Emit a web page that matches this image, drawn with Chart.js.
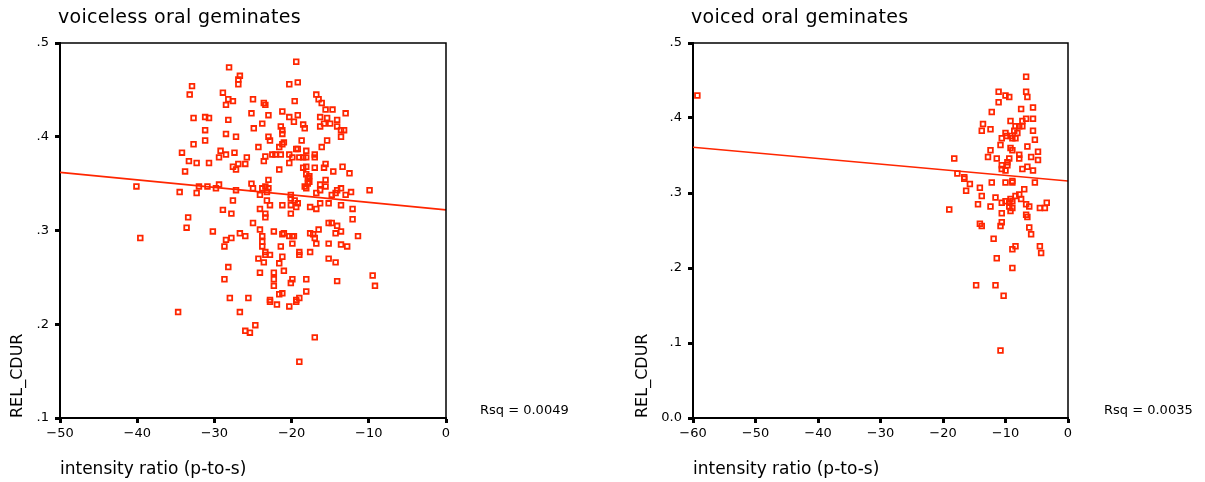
<!DOCTYPE html>
<html>
<head>
<meta charset="utf-8">
<script src="https://cdn.jsdelivr.net/npm/chart.js@4/dist/chart.umd.min.js"></script>
<style>
  body { margin: 0; background: #fff; }
  #wrap { position: relative; width: 1205px; height: 482px; }
  .box { position: absolute; top: 0; height: 482px; }
  #left { left: 0; width: 600px; }
  #right { left: 600px; width: 605px; }
</style>
</head>
<body>
<div id="wrap">
  <div class="box" id="left"><canvas id="c1"></canvas></div>
  <div class="box" id="right"><canvas id="c2"></canvas></div>
</div>
<script>
// stimmlose orale Geminaten (links)
const voicelessX = [
  -28.1,-26.7,-26.9,-26.9,-32.9,-33.2,-28.9,-28.2,-27.6,-28.5,-25.0,-25.2,-32.7,-31.2,-30.7,-28.2,-24.9,-31.2,-28.5,-27.2,
  -32.7,-31.2,-34.2,-29.2,-28.5,-27.4,-25.8,-33.3,-32.3,-30.7,-29.4,-27.6,-26.9,-26.0,-27.2,-33.8,-25.2,-40.1,-34.5,-32.0,
  -30.9,-29.8,-29.4,-27.2,-32.3,-25.0,-27.6,-28.9,-27.8,-33.4,-33.6,-39.6,-30.2,-28.5,-27.8,-26.7,-26.0,-25.0,-28.7,-28.2,
  -28.7,-28.0,-25.6,-34.7,-26.7,-24.7,-26.0,-25.4,-19.4,-20.3,-19.2,-16.8,-16.5,-16.1,-23.6,-23.4,-19.6,-15.6,-14.7,-13.0,
  -23.0,-21.2,-20.3,-19.2,-16.3,-15.4,-19.7,-15.8,-15.0,-14.1,-23.8,-21.4,-21.2,-21.2,-18.5,-18.3,-16.3,-14.1,-13.6,-13.2,
  -13.6,-23.0,-22.8,-18.7,-15.4,-21.0,-21.2,-21.6,-24.3,-16.1,-19.4,-19.2,-18.1,-23.4,-22.5,-22.1,-21.4,-20.3,-19.9,-19.0,
  -18.5,-18.1,-17.0,-17.0,-23.6,-20.3,-15.6,-18.1,-18.5,-17.0,-15.8,-13.4,-21.6,-14.6,-12.5,-18.1,-17.9,-17.7,-23.0,-15.6,
  -17.7,-17.9,-16.3,-15.6,-18.3,-18.1,-16.3,-23.8,-23.4,-23.0,-23.2,-24.1,-14.1,-13.6,-14.3,-14.8,-12.3,-9.9,-13.0,-16.8,
  -20.1,-20.1,-19.6,-19.2,-23.2,-22.8,-21.2,-20.1,-19.4,-16.3,-15.2,-13.6,-17.6,-16.8,-24.1,-12.1,-20.1,-23.4,-23.4,-12.1,
  -24.1,-22.3,-21.0,-21.2,-20.3,-19.9,-19.7,-23.8,-23.8,-23.8,-21.4,-19.9,-15.2,-14.8,-14.1,-13.6,-14.3,-17.6,-17.2,-16.5,
  -17.0,-16.8,-15.2,-13.6,-12.8,-11.4,-23.4,-23.4,-22.8,-24.3,-23.6,-21.2,-19.0,-19.0,-17.6,-21.6,-15.2,-14.3,-24.1,-22.3,
  -21.0,-22.3,-19.9,-20.1,-18.1,-14.1,-22.3,-21.2,-21.6,-18.1,-22.8,-22.8,-19.4,-19.4,-19.0,-21.9,-20.3,-17.0,-19.0,-9.5,
  -9.2
];
const voicelessY = [
  .474,.465,.461,.456,.454,.445,.447,.440,.438,.434,.440,.425,.420,.421,.420,.418,.409,.407,.403,.400,
  .392,.396,.383,.385,.381,.383,.378,.374,.372,.372,.378,.368,.371,.371,.365,.363,.350,.347,.341,.347,
  .347,.345,.349,.343,.340,.345,.332,.322,.318,.314,.303,.292,.299,.290,.292,.297,.294,.308,.283,.261,
  .248,.228,.228,.213,.213,.199,.193,.191,.480,.456,.458,.445,.440,.436,.436,.434,.438,.429,.429,.425,
  .423,.427,.421,.423,.421,.420,.416,.414,.414,.418,.414,.411,.407,.403,.413,.409,.411,.411,.407,.407,
  .400,.400,.396,.396,.396,.394,.392,.389,.389,.389,.387,.387,.385,.379,.381,.381,.381,.381,.378,.378,
  .378,.378,.381,.378,.374,.372,.371,.368,.367,.367,.367,.368,.365,.363,.361,.360,.356,.358,.354,.354,
  .352,.350,.349,.347,.347,.345,.343,.345,.347,.345,.341,.338,.343,.345,.340,.338,.341,.343,.338,.340,
  .338,.334,.332,.329,.332,.327,.327,.327,.325,.329,.329,.327,.325,.323,.323,.323,.318,.318,.314,.312,
  .301,.299,.297,.296,.294,.294,.294,.294,.288,.283,.283,.286,.308,.308,.305,.299,.297,.297,.296,.301,
  .292,.286,.286,.285,.283,.294,.277,.274,.274,.270,.266,.272,.277,.274,.277,.265,.270,.266,.255,.255,
  .257,.248,.248,.244,.248,.246,.241,.233,.232,.235,.226,.224,.226,.224,.228,.221,.219,.186,.160,.252,
  .241
];
// stimmhafte orale Geminaten (rechts)
const voicedX = [
  -59.3,-6.7,-11.1,-10.0,-9.4,-6.7,-6.5,-11.1,-7.5,-5.6,-12.2,-9.2,-7.3,-6.7,-5.6,-13.6,-12.4,-13.8,-8.4,-7.8,
  -7.3,-8.6,-8.1,-5.6,-10.0,-9.8,-10.6,-9.2,-8.9,-8.4,-5.3,-10.8,-9.2,-8.9,-6.5,-12.4,-4.8,-18.2,-12.8,-11.4,
  -9.4,-7.8,-7.8,-5.9,-4.8,-9.7,-10.6,-9.7,-10.6,-10.0,-7.3,-6.5,-5.6,-17.7,-16.6,-16.6,-15.7,-12.2,-10.0,-8.9,
  -8.9,-5.3,-14.1,-16.3,-7.0,-13.8,-11.6,-8.4,-7.8,-7.5,-9.2,-10.0,-10.6,-9.4,-8.9,-14.4,-12.4,-9.4,-6.7,-6.2,
  -3.4,-4.5,-3.7,-19.0,-8.9,-9.2,-10.6,-6.7,-6.5,-14.1,-13.8,-10.6,-10.8,-6.2,-5.9,-11.9,-8.4,-8.9,-4.5,-4.3,
  -11.4,-8.9,-14.7,-11.6,-10.3,-10.8
];
const voicedY = [
  .430,.455,.435,.430,.428,.435,.428,.421,.412,.414,.408,.396,.396,.399,.399,.392,.385,.383,.389,.389,
  .389,.383,.380,.383,.380,.376,.373,.376,.373,.373,.371,.364,.360,.357,.362,.357,.355,.346,.348,.346,
  .346,.351,.346,.348,.344,.341,.337,.337,.332,.330,.332,.335,.330,.326,.321,.319,.312,.314,.314,.316,
  .314,.314,.307,.303,.305,.296,.294,.296,.298,.292,.292,.289,.287,.287,.289,.285,.282,.282,.285,.282,
  .287,.280,.280,.278,.280,.276,.273,.271,.268,.259,.256,.261,.256,.254,.245,.239,.229,.225,.229,.220,
  .213,.200,.177,.177,.163,.090
];

// Regressionsgeraden
const voicelessFit = [[-50, .362], [0, .322]];
const voicedFit = [[-60, .361], [0, .316]];

// Achsen-Ticks
const voicelessXTicks = [-50, -40, -30, -20, -10, 0];
const voicelessXLabels = ['\u221250', '\u221240', '\u221230', '\u221220', '\u221210', '0'];
const voicelessYTicks = [.1, .2, .3, .4, .5];
const voicelessYLabels = ['.1', '.2', '.3', '.4', '.5'];
const voicedXTicks = [-60, -50, -40, -30, -20, -10, 0];
const voicedXLabels = ['\u221260', '\u221250', '\u221240', '\u221230', '\u221220', '\u221210', '0'];
const voicedYTicks = [0, .1, .2, .3, .4, .5];
const voicedYLabels = ['0.0', '.1', '.2', '.3', '.4', '.5'];

const RED = '#ff2600';

Chart.defaults.font.family = '"DejaVu Sans", sans-serif';
Chart.defaults.font.size = 13;
Chart.defaults.color = '#000';

// Rahmen oben/rechts, Titel und Rsq
const framePlugin = {
  id: 'frame',
  afterDraw(chart, args, opts) {
    const { ctx, chartArea: a } = chart;
    ctx.save();
    ctx.strokeStyle = '#000';
    ctx.lineWidth = 1.5;
    ctx.beginPath();
    ctx.moveTo(a.left, a.top);
    ctx.lineTo(a.right, a.top);
    ctx.lineTo(a.right, a.bottom);
    ctx.stroke();
    ctx.fillStyle = '#000';
    ctx.textBaseline = 'middle';
    ctx.font = '19px "DejaVu Sans"';
    ctx.letterSpacing = '0.3px';
    ctx.fillText(opts.title, a.left - 2, 18);
    ctx.letterSpacing = '0px';
    ctx.font = '13px "DejaVu Sans"';
    ctx.fillText(opts.rsq, a.right + opts.rsqGap, a.bottom - 7);
    ctx.restore();
  }
};

function toPoints(xs, ys) {
  return xs.map((x, i) => ({ x: x, y: ys[i] }));
}

function makeChart(id, cfg) {
  const axisGrid = {
    drawOnChartArea: false,
    drawTicks: true,
    tickLength: 5,
    tickWidth: 3,
    tickColor: '#000'
  };
  return new Chart(document.getElementById(id), {
    type: 'scatter',
    data: {
      datasets: [{
        type: 'line',
        data: cfg.fit.map(p => ({ x: p[0], y: p[1] })),
        borderColor: RED,
        borderWidth: 1.6,
        pointRadius: 0,
        fill: false
      }, {
        data: toPoints(cfg.xs, cfg.ys),
        pointStyle: 'rect',
        pointRadius: 3.3,
        borderWidth: 1.8,
        borderColor: RED,
        backgroundColor: 'transparent'
      }]
    },
    options: {
      responsive: true,
      maintainAspectRatio: false,
      animation: false,
      events: [],
      layout: { padding: { top: 43, right: cfg.padRight, left: 0, bottom: 0 } },
      plugins: {
        legend: { display: false },
        tooltip: { enabled: false },
        frame: { title: cfg.title, rsq: cfg.rsq, rsqGap: cfg.rsqGap }
      },
      scales: {
        x: {
          type: 'linear',
          min: cfg.xTicks[0],
          max: cfg.xTicks[cfg.xTicks.length - 1],
          afterBuildTicks: s => { s.ticks = cfg.xTicks.map(v => ({ value: v })); },
          afterFit: s => { s.height = 64; },
          border: { display: true, color: '#000', width: 2 },
          grid: axisGrid,
          ticks: {
            padding: 3,
            maxRotation: 0,
            callback: (v, i) => cfg.xLabels[i]
          },
          title: {
            display: true,
            text: 'intensity ratio (p-to-s)',
            align: 'start',
            font: { size: 17 },
            padding: { top: 0, bottom: 2 }
          }
        },
        y: {
          type: 'linear',
          min: cfg.yTicks[0],
          max: cfg.yTicks[cfg.yTicks.length - 1],
          afterBuildTicks: s => { s.ticks = cfg.yTicks.map(v => ({ value: v })); },
          afterFit: s => { s.width = cfg.yWidth; },
          border: { display: true, color: '#000', width: 2 },
          grid: axisGrid,
          ticks: {
            padding: 6,
            callback: (v, i) => cfg.yLabels[i]
          },
          title: {
            display: true,
            text: 'REL_CDUR',
            align: 'start',
            font: { size: 16 },
            padding: { top: cfg.yTitlePad, bottom: 0 }
          }
        }
      }
    },
    plugins: [framePlugin]
  });
}

makeChart('c1', {
  xs: voicelessX, ys: voicelessY, fit: voicelessFit,
  xTicks: voicelessXTicks, xLabels: voicelessXLabels,
  yTicks: voicelessYTicks, yLabels: voicelessYLabels,
  title: 'voiceless oral geminates', rsq: 'Rsq = 0.0049', rsqGap: 34,
  padRight: 154, yWidth: 60, yTitlePad: 8
});

makeChart('c2', {
  xs: voicedX, ys: voicedY, fit: voicedFit,
  xTicks: voicedXTicks, xLabels: voicedXLabels,
  yTicks: voicedYTicks, yLabels: voicedYLabels,
  title: 'voiced oral geminates', rsq: 'Rsq = 0.0035', rsqGap: 36,
  padRight: 137, yWidth: 93, yTitlePad: 33
});
</script>
</body>
</html>
